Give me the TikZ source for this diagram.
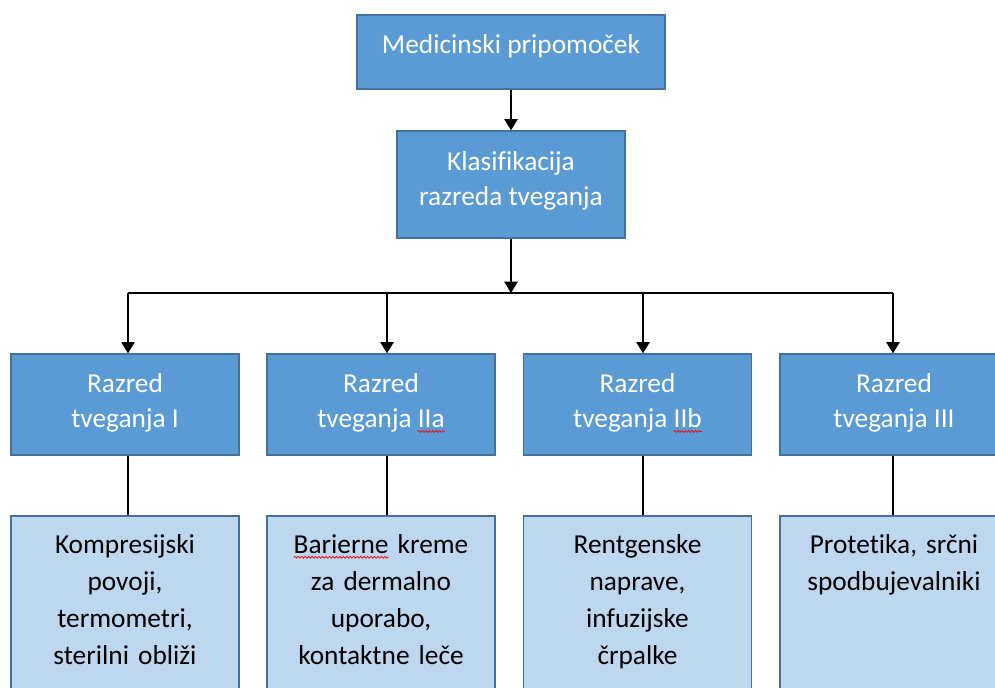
\documentclass[tikz,border=0pt]{standalone}
\usepackage{fontspec}
\setmainfont{Carlito}[Ligatures=NoCommon]
\usetikzlibrary{arrows.meta,decorations.pathmorphing}
\definecolor{darkfill}{HTML}{5B9BD5}
\definecolor{lightfill}{HTML}{BDD7EE}
\definecolor{boxborder}{HTML}{41719C}
\newsavebox\wavebox
\newlength\wavelen
\newcommand\redwave[1]{\sbox\wavebox{#1}\setlength\wavelen{\wd\wavebox}\rlap{\usebox\wavebox}\tikz[overlay,baseline=0pt]\draw[draw=red,line width=0.55pt,fill=none,decorate,decoration={snake,amplitude=0.7pt,segment length=2.6pt}] (0pt,-3.2pt) -- (\wavelen,-3.2pt);\hspace*{\wavelen}}
\tikzset{
  darkbox/.style={draw=boxborder, line width=1pt, fill=darkfill, inner sep=0pt},
  darktext/.style={text=white, align=center, inner sep=0pt,
    font=\fontsize{20.5}{26.25}\selectfont},
  lightbox/.style={draw=boxborder, line width=1pt, fill=lightfill, inner sep=0pt,
    minimum width=171pt, minimum height=142.5pt},
  ltext/.style={text=black, text width=165pt, align=center, anchor=base, inner sep=0pt,
    font=\fontsize{20.5}{27.75}\selectfont},
  conn/.style={line width=1.3pt, draw=black},
  arr/.style={conn, -{Triangle[length=8.5pt,width=10pt]}},
}
\begin{document}
\begin{tikzpicture}[x=0.75pt, y=-0.75pt]
\useasboundingbox (0,0) rectangle (995,687);
\clip (0,0) rectangle (995,687);
% top levels
\node[darkbox, minimum width=231pt, minimum height=55.5pt] (top) at (511,52) {};
\node[darktext] (topt) at ([yshift=4.5pt]top.center) {Medicinski pripomoček};
\node[darkbox, minimum width=171pt, minimum height=80.25pt] (klas) at (511,184.5) {};
\node[darktext] (klast) at ([yshift=2.5pt]klas.center) {Klasifikacija\\razreda tveganja};
% risk classes
\node[darkbox, minimum width=171pt, minimum height=75.75pt] (r1) at (125,404.5) {};
\node[darkbox, minimum width=171pt, minimum height=75.75pt] (r2) at (381,404.5) {};
\node[darkbox, minimum width=171pt, minimum height=75.75pt] (r3) at (637.5,404.5) {};
\node[darkbox, minimum width=171pt, minimum height=75.75pt] (r4) at (894,404.5) {};
\node[darktext] (r1t) at ([yshift=1.5pt]r1.center) {Razred\\tveganja I};
\node[darktext] (r2t) at ([yshift=1.5pt]r2.center) {Razred\\tveganja \redwave{IIa}};
\node[darktext] (r3t) at ([yshift=1.5pt]r3.center) {Razred\\tveganja \redwave{IIb}};
\node[darktext] (r4t) at ([yshift=1.5pt]r4.center) {Razred\\tveganja III};
% example boxes
\node[lightbox] (e1) at (125,611) {};
\node[lightbox] (e2) at (381,611) {};
\node[lightbox] (e3) at (637.5,611) {};
\node[lightbox] (e4) at (894,611) {};
\node[ltext] (t1) at (125,553) {Kompresijski\\povoji,\\termometri,\\sterilni obliži};
\node[ltext] (t2) at (381,553) {\redwave{Barierne} kreme\\za dermalno\\uporabo,\\kontaktne leče};
\node[ltext] (t3) at (637.5,553) {Rentgenske\\naprave,\\infuzijske\\črpalke};
\node[ltext] (t4) at (894,553) {Protetika, srčni\\spodbujevalniki};
% connectors
\coordinate (bus) at (511,293);
\coordinate (b1) at (128,293);
\coordinate (b2) at (387,293);
\coordinate (b3) at (643,293);
\coordinate (b4) at (893,293);
\draw[arr] (top) -- (klas);
\draw[arr] (klas) -- (bus);
\draw[conn] (b1) -- (b4);
\foreach \i in {1,2,3,4}{
  \draw[arr] (b\i) -- (b\i |- r\i.north);
  \draw[conn] (b\i |- r\i.south) -- (b\i |- e\i.north);
}
\end{tikzpicture}
\end{document}
